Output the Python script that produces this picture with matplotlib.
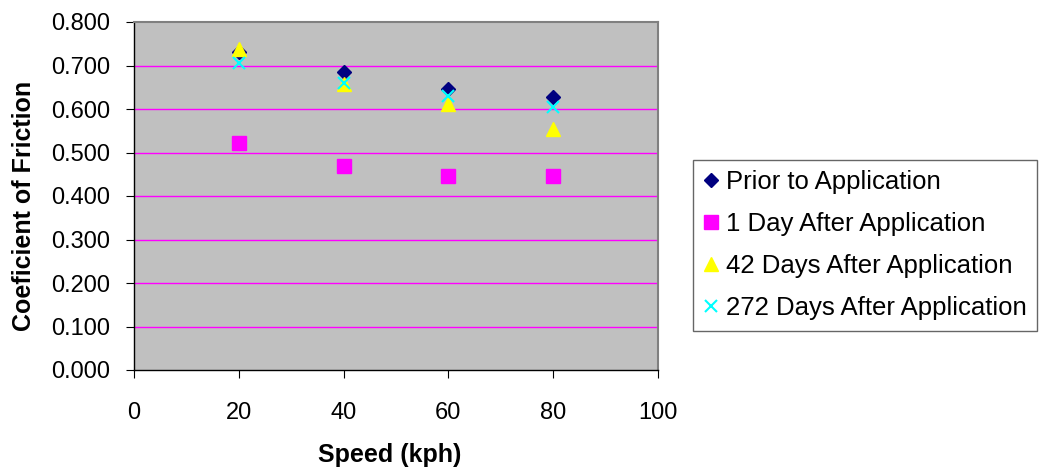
import matplotlib.pyplot as plt

plt.rcParams['font.family'] = ['Liberation Sans', 'DejaVu Sans']

#Data
speed = [20, 40, 60, 80]
prior = [0.732, 0.686, 0.647, 0.627]
day1 = [0.521, 0.470, 0.447, 0.447]
day42 = [0.737, 0.658, 0.612, 0.553]
day272 = [0.705, 0.660, 0.631, 0.605]

fig = plt.figure(figsize=(10.42, 4.72), dpi=100)
ax = fig.add_axes([134/1042, 1 - 370/472, (658-134)/1042, (370-22)/472])
ax.set_facecolor('#C0C0C0')

for y in [0.1, 0.2, 0.3, 0.4, 0.5, 0.6, 0.7]:
    ax.axhline(y, color='#FF00FF', lw=1, zorder=1)

ax.plot(speed, prior, 'D', color='#000080', ms=7, ls='none', label='Prior to Application', zorder=3)
ax.plot(speed, day1, 's', color='#FF00FF', ms=9.5, ls='none', label='1 Day After Application', zorder=3)
ax.plot(speed, day42, '^', color='#FFFF00', ms=10, ls='none', label='42 Days After Application', zorder=3)
ax.plot(speed, day272, 'x', color='#00FFFF', ms=9, mew=1.5, ls='none', label='272 Days After Application', zorder=4)

ax.set_xlim(0, 100)
ax.set_ylim(0, 0.8)
ax.set_xticks(range(0, 101, 20))
ax.set_yticks([i / 10 for i in range(9)])
ax.set_yticklabels(['%.3f' % (i / 10) for i in range(9)])
ax.tick_params(direction='out', length=6, labelsize=17, colors='black')
ax.tick_params(axis='x', pad=17)
ax.tick_params(axis='y', pad=11)

for side in ['top', 'right']:
    ax.spines[side].set_color('#808080')
    ax.spines[side].set_linewidth(1.5)
for side in ['left', 'bottom']:
    ax.spines[side].set_color('black')
    ax.spines[side].set_linewidth(1)

ax.set_xlabel('Speed (kph)', fontsize=18, fontweight='bold')
ax.set_ylabel('Coeficient of Friction', fontsize=18, fontweight='bold')
ax.xaxis.set_label_coords((390 - 134) / 524, -(455 - 370) / 348)
ax.xaxis.label.set_va('center')
ax.yaxis.set_label_coords(-(134 - 24) / 524, (370 - 206) / 348)
ax.yaxis.label.set_va('center')

leg = fig.legend(loc='upper left', bbox_to_anchor=(693/1042, 1 - 160/472), fontsize=18.5,
                 frameon=True, fancybox=False, handlelength=0.6, handletextpad=0.3,
                 borderpad=0.4, labelspacing=0.7, borderaxespad=0)
leg.get_frame().set_edgecolor('#404040')
leg.get_frame().set_linewidth(1)

plt.savefig('out.png', dpi=100)
plt.close()
